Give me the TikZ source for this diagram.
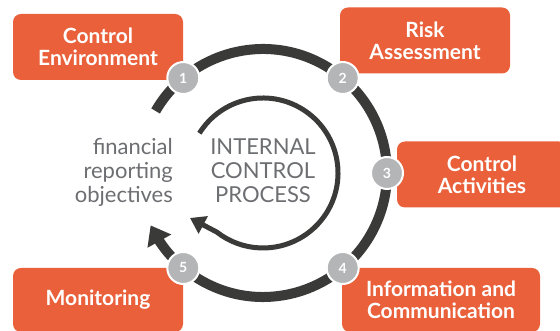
\documentclass[tikz,border=0pt]{standalone}
\usepackage{fontspec}
\setmainfont{Lato}
\usetikzlibrary{arrows.meta,bending}

\definecolor{boxorange}{HTML}{E9603A}
\definecolor{ringgray}{HTML}{3A3A38}
\definecolor{badgegray}{HTML}{B4B5B7}
\definecolor{labelgray}{HTML}{6D6E71}

\begin{document}
\begin{tikzpicture}[x=1pt,y=1pt,
  stagebox/.style={fill=boxorange, rounded corners=8pt, minimum width=170pt,
    minimum height=66pt, text=white, align=center, inner sep=0pt,
    font=\fontsize{21}{22}\selectfont\bfseries},
  badge/.style={circle, fill=badgegray, draw=white, line width=2pt,
    minimum size=32pt, inner sep=0pt, text=white,
    font=\fontsize{14}{14}\selectfont\bfseries},
  outerring/.style={draw=ringgray, line width=10pt,
    -{Triangle[length=18pt,width=26pt]}},
  innerring/.style={draw=ringgray, line width=5pt,
    -{Triangle[length=15pt,width=19pt]}},
  caption/.style={text=labelgray, inner sep=0pt,
    font=\fontsize{22}{24}\selectfont}
]
\useasboundingbox (0,0) rectangle (560,331);

% centre of the cycle and the tip of the inner arrow
\coordinate (C) at (263,158);
\coordinate (innertip) at (190,113);

% the five components
\node[stagebox] (env)  at (98,284)    {Control\\Environment};
\node[stagebox] (risk) at (425,290.5) {Risk\\Assessment};
\node[stagebox] (act)  at (482,156.5) {Control\\Activities};
\node[stagebox, minimum width=198pt, minimum height=64pt] (info) at (441,31)
  {Information and\\Communication};
\node[stagebox, minimum height=64pt] (mon) at (98,31) {Monitoring};

% outer cycle and inner process arrow
\draw[outerring] (C) ++(150:124) arc[start angle=150, end angle=-155, radius=124];
\draw[innerring] (C) ++(148:75) arc[start angle=148, end angle=-128, radius=75]
  -- (innertip);

% numbered badges on the ring
\node[badge] (b1) at ([shift={(130:124)}]C) {1};
\node[badge] (b2) at ([shift={(50:124)}]C)  {2};
\node[badge] (b3) at ([shift={(0:124)}]C)   {3};
\node[badge] (b4) at ([shift={(-50:124)}]C) {4};
\node[badge] (b5) at ([shift={(-130:124)}]C){5};

% centre texts (anchored on the baseline of the last line)
\node[caption, align=right, anchor=base east] (goal) at (173,128)
  {financial\\reporting\\objectives};
\node[caption, align=center, anchor=base] (proc) at (263,128)
  {INTERNAL\\CONTROL\\PROCESS};
\end{tikzpicture}
\end{document}
